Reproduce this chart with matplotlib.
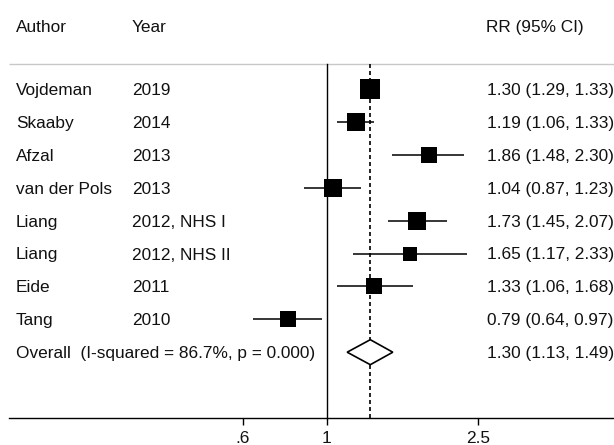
import numpy as np
import matplotlib
matplotlib.use("Agg")
import matplotlib.pyplot as plt
from matplotlib.patches import Polygon
import matplotlib.transforms as mtrans

plt.rcParams['font.family'] = ['Liberation Sans', 'DejaVu Sans']

authors = ["Vojdeman", "Skaaby", "Afzal", "van der Pols", "Liang", "Liang", "Eide", "Tang"]
years = ["2019", "2014", "2013", "2013", "2012, NHS I", "2012, NHS II", "2011", "2010"]
rr = [1.30, 1.19, 1.86, 1.04, 1.73, 1.65, 1.33, 0.79]
lo = [1.29, 1.06, 1.48, 0.87, 1.45, 1.17, 1.06, 0.64]
hi = [1.33, 1.33, 2.30, 1.23, 2.07, 2.33, 1.68, 0.97]
weights = [16.4, 14.8, 11.8, 12.6, 12.6, 8.6, 10.8, 12.2]
overall_label = "Overall  (I-squared = 86.7%, p = 0.000)"
overall_rr, overall_lo, overall_hi = 1.30, 1.13, 1.49
tick_values = [0.6, 1, 2.5]
tick_labels = [".6", "1", "2.5"]
header = ["Author", "Year", "RR (95% CI)"]

W, H = 614, 445
DPI = 100
fig = plt.figure(figsize=(W / DPI, H / DPI), dpi=DPI)
ax = fig.add_axes([0, 0, 1, 1])
ax.set_xscale('log')

# layout in pixels
x_one = 327.0
ppl = 165.0  # pixels per natural-log unit
ax.set_xlim(np.exp(-x_one / ppl), np.exp((W - x_one) / ppl))
row0, rowh = 89.0, 32.9
ax.set_ylim((H - row0) / rowh, -row0 / rowh)

n = len(rr)
ys = np.arange(n)
ov_y = n
top_y = -0.76
axis_y = 10.0

fs = 12.4
tcol = '#111111'
trans = mtrans.blended_transform_factory(fig.transFigure, ax.transData)

def fx(px):
    return px / W

def txt(px, y, s):
    ax.text(fx(px), y, s, transform=trans, ha='left', va='center_baseline', fontsize=fs, color=tcol)

# header
txt(16, -1.9, header[0])
txt(132, -1.9, header[1])
txt(486, -1.9, header[2])

# gray separator
ax.plot([fx(9), 1], [top_y, top_y], transform=trans, color='#c8c8c8', lw=1.0, solid_capstyle='butt')

for i in range(n):
    txt(16, ys[i], authors[i])
    txt(132, ys[i], years[i])
    txt(487, ys[i], f"{rr[i]:.2f} ({lo[i]:.2f}, {hi[i]:.2f})")
    ax.plot([lo[i], hi[i]], [ys[i], ys[i]], color='black', lw=1.1, solid_capstyle='butt', zorder=3)
    side_px = 4.86 * np.sqrt(weights[i])
    ax.plot([rr[i]], [ys[i]], marker='s', markersize=side_px * 72 / DPI, color='black',
            markeredgewidth=0, linestyle='none', zorder=4)

txt(16, ov_y, overall_label)
txt(487, ov_y, f"{overall_rr:.2f} ({overall_lo:.2f}, {overall_hi:.2f})")

# reference lines
ax.plot([1, 1], [top_y, axis_y], color='black', lw=1.0, zorder=2)
ax.plot([overall_rr, overall_rr], [top_y, axis_y], color='black', lw=1.2,
        linestyle=(0, (2.4, 1.8)), zorder=2)

# diamond
dh = 0.38
diamond = Polygon([[overall_lo, ov_y], [overall_rr, ov_y - dh], [overall_hi, ov_y], [overall_rr, ov_y + dh]],
                  closed=True, facecolor='white', edgecolor='black', lw=1.2, zorder=5)
ax.add_patch(diamond)

# axis
for s in ['top', 'left', 'right']:
    ax.spines[s].set_visible(False)
ax.spines['bottom'].set_position(('data', axis_y))
ax.spines['bottom'].set_bounds(np.exp((9 - x_one) / ppl), np.exp((W - x_one) / ppl))
ax.spines['bottom'].set_linewidth(1.0)
ax.set_xticks(tick_values)
ax.set_xticklabels(tick_labels)
ax.xaxis.set_minor_locator(matplotlib.ticker.NullLocator())
ax.tick_params(axis='x', direction='out', length=5, width=1.0, pad=4.5, labelsize=fs, labelcolor=tcol)
ax.set_yticks([])
ax.patch.set_visible(False)

fig.savefig("out.png", dpi=DPI)
